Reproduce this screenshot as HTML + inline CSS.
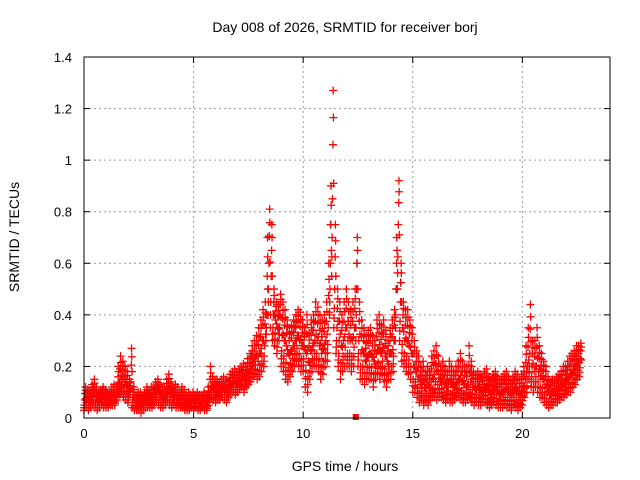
<!DOCTYPE html>
<html><head><meta charset="utf-8"><style>
body{margin:0;background:#fff;}
svg{display:block;font-family:"Liberation Sans",sans-serif;}
</style></head><body>
<svg id="chart" width="640" height="480" viewBox="0 0 640 480">
<text x="345" y="32" font-size="14" text-anchor="middle">Day 008 of 2026, SRMTID for receiver borj</text>
<text x="345" y="471" font-size="14" text-anchor="middle">GPS time / hours</text>
<text transform="translate(19,237) rotate(-90)" font-size="14" text-anchor="middle">SRMTID / TECUs</text>
<g id="grid"></g>
<g id="ticks"></g>
<g id="pts"></g>
<rect x="84" y="57" width="526" height="361" fill="none" stroke="#000" stroke-width="1"/>
</svg>
<script>
const xTicks=[0,5,10,15,20];
const yTicks=[0,0.2,0.4,0.6,0.8,1,1.2,1.4];
const yTickLabels=["0","0.2","0.4","0.6","0.8","1","1.2","1.4"];
const step=0.1;
const mid=[.07,.08,.07,.08,.09,.08,.07,.08,.09,.08,
.07,.07,.08,.09,.08,.12,.14,.15,.13,.12,
.1,.14,.08,.06,.06,.07,.06,.07,.08,.07,
.07,.08,.09,.1,.09,.08,.08,.09,.1,.09,
.08,.09,.08,.07,.08,.07,.06,.07,.06,.07,
.06,.07,.06,.06,.07,.06,.06,.1,.12,.11,
.1,.1,.11,.12,.11,.1,.12,.13,.14,.13,
.14,.15,.16,.15,.17,.18,.2,.22,.24,.22,
.25,.3,.28,.4,.6,.55,.4,.38,.35,.4,
.32,.3,.28,.25,.26,.28,.3,.32,.3,.28,
.28,.25,.22,.26,.28,.3,.3,.28,.25,.27,
.3,.35,.6,.85,.5,.35,.3,.28,.3,.35,
.3,.3,.3,.35,.5,.3,.25,.25,.22,.24,
.25,.24,.22,.25,.26,.25,.27,.24,.22,.25,
.25,.3,.5,.75,.45,.35,.3,.3,.28,.25,
.2,.18,.15,.13,.14,.12,.13,.12,.14,.15,
.14,.13,.14,.15,.13,.12,.14,.13,.12,.13,
.14,.15,.14,.13,.12,.13,.14,.12,.11,.12,
.11,.1,.11,.12,.1,.1,.11,.12,.1,.09,
.1,.1,.11,.1,.09,.1,.11,.1,.09,.1,
.12,.15,.2,.25,.2,.18,.2,.18,.16,.15,
.12,.1,.09,.1,.1,.11,.12,.12,.13,.14,
.15,.16,.17,.19,.2,.22,.23];
const lo=[.03,.04,.03,.04,.05,.04,.03,.04,.05,.04,
.04,.04,.05,.05,.05,.07,.09,.1,.08,.07,
.06,.09,.04,.03,.03,.03,.02,.03,.04,.04,
.04,.04,.05,.06,.05,.04,.04,.05,.06,.05,
.04,.05,.04,.04,.04,.04,.03,.03,.03,.04,
.03,.04,.03,.03,.04,.03,.03,.05,.08,.07,
.06,.07,.07,.08,.07,.06,.08,.09,.1,.09,
.1,.11,.12,.1,.12,.13,.14,.16,.17,.15,
.16,.18,.2,.3,.4,.35,.3,.28,.25,.3,
.2,.18,.15,.14,.16,.18,.2,.22,.2,.18,
.18,.12,.1,.15,.18,.2,.2,.18,.15,.17,
.2,.22,.4,.55,.35,.25,.2,.15,.18,.2,
.2,.2,.18,.2,.3,.2,.15,.15,.13,.15,
.15,.15,.12,.15,.17,.15,.17,.14,.12,.15,
.15,.18,.3,.5,.3,.22,.2,.18,.17,.15,
.1,.1,.08,.06,.07,.05,.06,.05,.07,.08,
.08,.07,.08,.08,.07,.06,.07,.06,.06,.07,
.08,.08,.07,.06,.06,.07,.08,.06,.05,.06,
.05,.05,.06,.06,.05,.04,.05,.06,.05,.04,
.04,.04,.05,.04,.04,.03,.05,.04,.03,.04,
.05,.08,.1,.15,.12,.1,.12,.1,.08,.08,
.06,.05,.04,.05,.05,.06,.06,.07,.08,.08,
.09,.1,.1,.12,.13,.15,.16];
const hi=[.12,.11,.1,.13,.15,.12,.1,.11,.12,.11,
.1,.1,.12,.13,.12,.2,.24,.22,.2,.18,
.15,.27,.12,.09,.1,.1,.09,.1,.12,.11,
.12,.12,.14,.15,.13,.12,.12,.15,.17,.14,
.12,.13,.12,.1,.12,.11,.09,.1,.09,.1,
.09,.1,.09,.09,.1,.09,.12,.2,.16,.15,
.15,.14,.15,.16,.15,.14,.17,.18,.19,.18,
.19,.2,.21,.2,.23,.25,.28,.3,.32,.35,
.38,.42,.45,.7,.81,.75,.5,.45,.44,.48,
.45,.42,.38,.35,.36,.38,.4,.42,.41,.38,
.35,.4,.33,.38,.4,.45,.43,.4,.38,.4,
.45,.6,.9,1.27,.75,.5,.45,.4,.45,.5,
.45,.42,.45,.5,.7,.45,.38,.35,.32,.34,
.35,.32,.3,.38,.4,.36,.38,.34,.3,.35,
.38,.42,.7,.92,.6,.45,.42,.42,.38,.35,
.3,.26,.24,.2,.22,.18,.2,.18,.24,.26,
.28,.24,.2,.22,.2,.18,.22,.2,.18,.2,
.22,.25,.22,.2,.2,.28,.22,.18,.17,.18,
.17,.16,.18,.19,.16,.15,.17,.18,.16,.15,
.16,.17,.18,.16,.15,.16,.18,.17,.15,.17,
.2,.28,.35,.44,.3,.3,.35,.28,.25,.22,
.2,.16,.14,.15,.15,.16,.17,.18,.2,.2,
.22,.24,.25,.26,.28,.28,.29];
const flagTime=[12.4];
const flagValue=[0];

const X0=84,X1=610,Y0=418,Y1=57,XMAX=24,YMAX=1.4;
const xs=v=>X0+(X1-X0)*v/XMAX;
const ys=v=>Y0-(Y0-Y1)*v/YMAX;
const NS="http://www.w3.org/2000/svg";
function mk(tag,attrs,parent){const e=document.createElementNS(NS,tag);for(const k in attrs)e.setAttribute(k,attrs[k]);parent.appendChild(e);return e;}
const grid=document.getElementById('grid'),ticks=document.getElementById('ticks'),pts=document.getElementById('pts');
xTicks.forEach(t=>{
 const x=xs(t);
 if(t>0){const g=mk('line',{x1:x,y1:Y0,x2:x,y2:Y1,stroke:'#999','stroke-dasharray':'2,3'},grid);
 
 }
 mk('line',{x1:x,y1:Y0,x2:x,y2:Y0-6,stroke:'#000'},ticks);
 mk('line',{x1:x,y1:Y1,x2:x,y2:Y1+6,stroke:'#000'},ticks);
 const l=mk('text',{x:x,y:Y0+20,'font-size':13,'text-anchor':'middle'},ticks);
 l.textContent=t;
 
 
});
yTicks.forEach((t,i)=>{
 const y=ys(t);
 if(t>0&&t<YMAX){const g=mk('line',{x1:X0,y1:y,x2:X1,y2:y,stroke:'#999','stroke-dasharray':'2,3'},grid);
 
 }
 mk('line',{x1:X0,y1:y,x2:X0+6,y2:y,stroke:'#000'},ticks);
 mk('line',{x1:X1,y1:y,x2:X1-6,y2:y,stroke:'#000'},ticks);
 const l=mk('text',{x:X0-12,y:y+5,'font-size':13,'text-anchor':'end'},ticks);
 l.textContent=yTickLabels[i];
 
 
});
function plus(t,v,col){
 const x=xs(t),y=ys(v);
 const p=mk('path',{d:`M${x-4},${y}h8M${x},${y-4}v8`,stroke:col,'stroke-width':1.3,fill:'none'},pts);
 
 
}
mid.forEach((m,i)=>{ if(i%4===0) plus(i*step+0.05,(m+hi[i])/2,'#333'); });
mid.forEach((m,i)=>{
 const t=i*step;
 plus(t,lo[i],'#f00');
 plus(t+0.02,(lo[i]+m)/2,'#f00');
 plus(t+0.04,m,'#f00');
 plus(t+0.06,(m+hi[i])/2,'#f00');
 plus(t+0.07,hi[i],'#f00');
 plus(t+0.08,(3*hi[i]+m)/4,'#f00');
 plus(t+0.09,(lo[i]+hi[i])/2,'#f00');
 plus(t+0.01,(m+3*lo[i])/4,'#f00');
});
flagTime.forEach((t,i)=>{
 const r=mk('rect',{x:xs(t)-3,y:ys(flagValue[i])-4,width:6,height:6,fill:'#f00'},pts);
 
 
});
</script>
</body></html>
